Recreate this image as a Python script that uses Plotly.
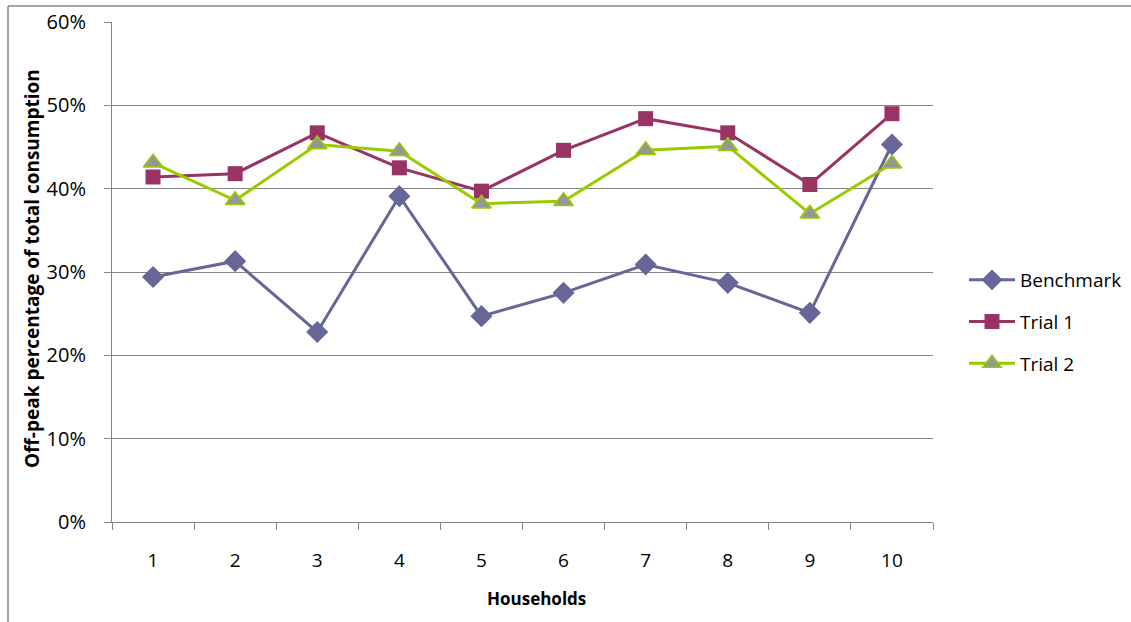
import plotly.graph_objects as go

households = [1, 2, 3, 4, 5, 6, 7, 8, 9, 10]
benchmark = [0.294, 0.313, 0.228, 0.391, 0.247, 0.275, 0.309, 0.287, 0.251, 0.453]
trial1 = [0.414, 0.418, 0.467, 0.425, 0.397, 0.446, 0.484, 0.467, 0.405, 0.490]
trial2 = [0.431, 0.386, 0.453, 0.445, 0.382, 0.385, 0.446, 0.451, 0.370, 0.430]
y_ticks = [0, 0.1, 0.2, 0.3, 0.4, 0.5, 0.6]

FONT = "'Open Sans', Lato, sans-serif"

fig = go.Figure()
fig.add_trace(go.Scatter(
    x=households, y=benchmark, name="Benchmark", mode="lines+markers",
    legendgroup="b",
    line=dict(color="#666699", width=3),
    marker=dict(symbol="diamond", size=17, color="#666699"),
))
fig.add_trace(go.Scatter(
    x=households, y=trial1, name="Trial 1", mode="lines+markers",
    legendgroup="t1",
    line=dict(color="#993366", width=3),
    marker=dict(symbol="square", size=15, color="#993366"),
))
fig.add_trace(go.Scatter(
    x=households, y=trial2, name="Trial 2", mode="lines+markers",
    legendgroup="t2",
    line=dict(color="#99CC00", width=3),
    marker=dict(symbol="triangle-up", size=17, color="#969696",
                line=dict(color="#99CC00", width=1.5)),
))

# plot area in pixels: x 112..933, y 22..522
L, R, T, B = 112, 933, 22, 522
W, H = 1131, 622
pw, ph = R - L, B - T

def px(x):
    return (x - L) / pw

def py(y):
    return (B - y) / ph

fig.update_layout(
    width=W, height=H,
    margin=dict(l=L, r=W - R, t=T, b=H - B, autoexpand=False),
    paper_bgcolor="white", plot_bgcolor="white",
    font=dict(family=FONT, color="#000000", size=19),
    showlegend=True,
    legend=dict(
        x=px(964), y=py(261), xanchor="left", yanchor="top",
        font=dict(size=19, family=FONT),
        tracegroupgap=14, itemwidth=46,
        bgcolor="rgba(0,0,0,0)",
    ),
    xaxis=dict(
        range=[0.5, 10.5], tickvals=households,
        ticktext=[str(h) for h in households],
        ticks="", showgrid=False, zeroline=False,
        showline=True, linecolor="#868686", linewidth=1,
        minor=dict(tick0=0.5, dtick=1, ticks="outside", ticklen=7,
                   tickcolor="#868686", showgrid=False),
        ticklabelstandoff=21,
        tickfont=dict(size=19),
    ),
    yaxis=dict(
        range=[0, 0.6], tickvals=y_ticks, tickformat=".0%",
        showgrid=True, gridcolor="#868686", gridwidth=1,
        zeroline=False, showline=True, linecolor="#868686", linewidth=1,
        ticks="outside", ticklen=7, tickcolor="#868686",
        ticklabelstandoff=14,
        tickfont=dict(size=20),
    ),
    annotations=[
        dict(text="<b>Households</b>", xref="paper", yref="paper",
             x=px(536), y=py(598), xanchor="center", yanchor="middle",
             showarrow=False, font=dict(size=17, family=FONT)),
        dict(text="<b>Off-peak percentage of total consumption</b>",
             xref="paper", yref="paper", textangle=-90,
             x=px(32), y=py(269), xanchor="center", yanchor="middle",
             showarrow=False, font=dict(size=19, family=FONT)),
    ],
    shapes=[
        dict(type="line", xref="paper", yref="paper",
             x0=px(8), x1=px(8), y0=py(H + 5), y1=py(6),
             line=dict(color="#868686", width=1.5)),
        dict(type="line", xref="paper", yref="paper",
             x0=px(8), x1=px(W + 5), y0=py(6), y1=py(6),
             line=dict(color="#868686", width=1.5)),
    ],
)

fig.write_html("out.html")
